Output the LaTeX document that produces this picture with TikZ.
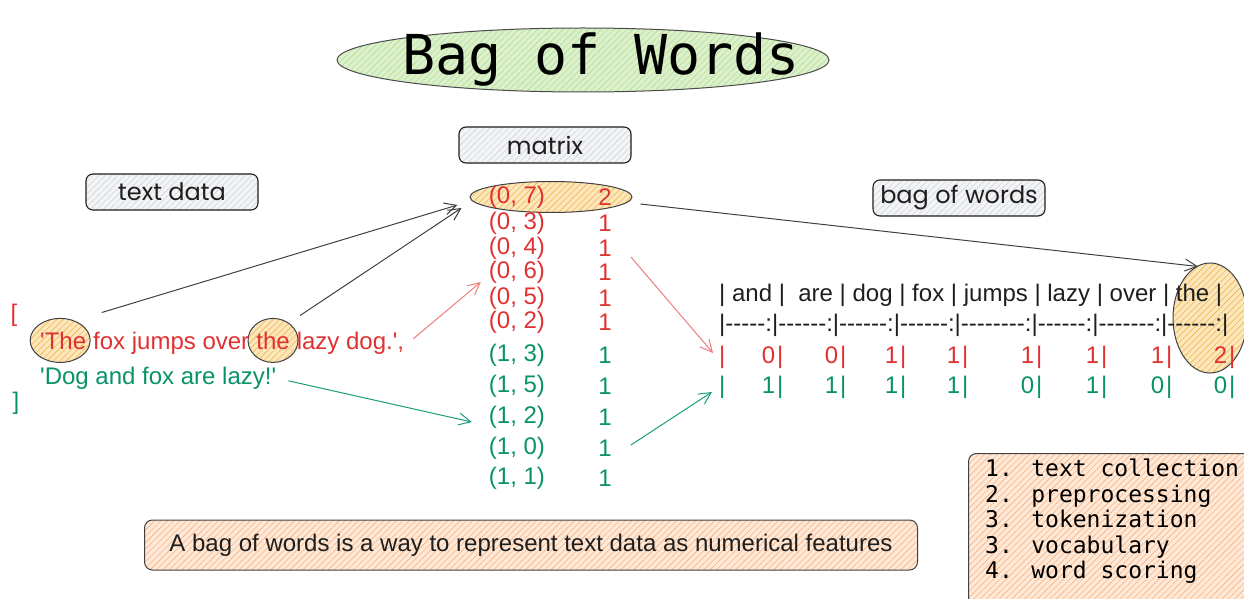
\documentclass[tikz,border=0pt]{standalone}
\usepackage{fontspec}
\newfontfamily\bowfont{Liberation Sans}
\newfontfamily\codefont{DejaVu Sans Mono}
\newfontfamily\handfont{Poppins}
\usetikzlibrary{shapes.geometric,arrows.meta,positioning,backgrounds,patterns.meta}

\definecolor{bowred}{HTML}{E03131}
\definecolor{bowgreen}{HTML}{099268}
\definecolor{ink}{HTML}{1E1E1E}
\definecolor{titlefill}{HTML}{DCF1CB}
\definecolor{titlehatch}{HTML}{B3DE96}
\definecolor{hlfill}{HTML}{FCE7BC}
\definecolor{hlhatch}{HTML}{F0B54E}
\definecolor{notefill}{HTML}{FFE8D6}
\definecolor{notehatch}{HTML}{F5B386}
\definecolor{tagfill}{HTML}{F3F4F6}
\definecolor{taghatch}{HTML}{D2D5DA}
\definecolor{arrred}{HTML}{F07C7C}
\definecolor{arrgreen}{HTML}{1A9C7A}

\newcommand\bowcell[2]{\makebox[#1pt][r]{#2\kern2pt|}}

\tikzset{
  hatch/.style 2 args={preaction={fill=#1},
    preaction={pattern={Lines[angle=45,distance=4.5pt,line width=0.6pt]},pattern color=#2}},
  tagbox/.style={draw=ink, line width=1.1pt, rounded corners=7pt, hatch={tagfill}{taghatch},
    minimum width=172pt, minimum height=36pt, text=ink, font=\handfont\fontsize{24}{28}\selectfont},
  hlring/.style={ellipse, draw=ink!85, line width=1pt, hatch={hlfill}{hlhatch}, inner sep=0pt},
  bowtxt/.style={inner sep=0pt, font=\bowfont\fontsize{24}{28}\selectfont},
  arr/.style={-{Straight Barb[length=12pt,width=12pt]}, line width=1pt, draw=ink!85},
}

\begin{document}
\begin{tikzpicture}[x=1pt,y=-1pt]
\useasboundingbox (0,0) rectangle (1244,599);
\clip (0,0) rectangle (1244,599);

% title
\node[ellipse, draw=ink!80, line width=1pt, hatch={titlefill}{titlehatch},
      minimum width=492pt, minimum height=64pt, inner sep=0pt] (titlering) at (583,60) {};
\node[inner sep=0pt, font=\codefont\fontsize{55}{62}\selectfont, text=black] (title)
  at ([xshift=18pt]titlering.center) {Bag of Words};

% labels
\node[tagbox] (matrixtag) at (545,145) {matrix};
\node[tagbox] (texttag) at (172,192) {text data};
\node[tagbox] (bagtag) at (959,198) {bag of words};

% input sentences
\node[bowtxt, text=bowred] (lbr) at (14,315) {[};
\node[bowtxt, text=bowred, anchor=base west] (s1a) at (40,349) {'The};
\node[bowtxt, text=bowred, anchor=base west] (s1b) at (s1a.base east) {~fox jumps over\kern.278em};
\node[bowtxt, text=bowred, anchor=base west] (s1c) at (s1b.base east) {the};
\node[bowtxt, text=bowred, anchor=base west] (s1d) at (s1c.base east) {~lazy dog.',};
\node[bowtxt, text=bowgreen, anchor=base west] (s2) at (40,384) {'Dog and fox are lazy!'};
\node[bowtxt, text=bowgreen] (rbr) at (16,403) {]};
\begin{scope}[on background layer]
  \node[hlring, minimum width=60pt, minimum height=44pt] (hlA) at ([xshift=-3pt]s1a.center) {};
  \node[hlring, minimum width=50pt, minimum height=44pt] (hlB) at (s1c.center) {};
\end{scope}

% sparse matrix
\node[hlring, minimum width=162pt, minimum height=31pt] (hlM) at (551,197) {};
\foreach \i/\yy/\lab/\val/\col in {1/197/{(0, 7)}/2/bowred, 2/223/{(0, 3)}/1/bowred,
    3/248/{(0, 4)}/1/bowred, 4/272/{(0, 6)}/1/bowred, 5/298/{(0, 5)}/1/bowred,
    6/322/{(0, 2)}/1/bowred, 7/355/{(1, 3)}/1/bowgreen, 8/386/{(1, 5)}/1/bowgreen,
    9/417/{(1, 2)}/1/bowgreen, 10/448/{(1, 0)}/1/bowgreen, 11/478/{(1, 1)}/1/bowgreen}{
  \node[bowtxt, text=\col] (m\i) at (517,\yy) {\lab};
  \node[bowtxt, text=\col] (v\i) at (605,\yy) {\val};
}

% bag of words table
\node[hlring, minimum width=74pt, minimum height=110pt] (hlT) at (1210,318) {};
\node[bowtxt, text=ink, anchor=west] (r1) at (719,295) {|~and~|~~are~|~dog~|~fox~|~jumps~|~lazy~|~over~|~the~|};
\node[bowtxt, text=ink, anchor=west] (r2) at (719,325) {|-----:|------:|------:|------:|--------:|------:|-------:|------:|};
\node[bowtxt, text=bowred, anchor=west] (r3) at (719,357) {|\bowcell{58}{0}\bowcell{63}{0}\bowcell{60}{1}\bowcell{62}{1}\bowcell{74}{1}\bowcell{65}{1}\bowcell{65}{1}\bowcell{63}{2}};
\node[bowtxt, text=bowgreen, anchor=west] (r4) at (719,387) {|\bowcell{58}{1}\bowcell{63}{1}\bowcell{60}{1}\bowcell{62}{1}\bowcell{74}{0}\bowcell{65}{1}\bowcell{65}{0}\bowcell{63}{0}};

% notes
\node[draw=ink!85, line width=1pt, rounded corners=8pt, hatch={notefill}{notehatch},
      minimum width=773pt, minimum height=50pt, text=ink,
      font=\bowfont\fontsize{24}{28}\selectfont] (note) at (531,545)
  {A bag of words is a way to represent text data as numerical features};
\node[draw=ink!85, line width=1pt, rounded corners=8pt, hatch={notefill}{notehatch},
      minimum width=282pt, minimum height=152pt, anchor=north west] (steps) at (968,453) {};
\node[anchor=north west, align=left, inner sep=0pt, text=black,
      font=\codefont\fontsize{23}{25.5}\selectfont] (stepstxt) at (985,459)
  {1. text collection\\2. preprocessing\\3. tokenization\\3. vocabulary\\4. word scoring};

% arrows
\draw[arr] ([shift={(20pt,12pt)}]hlA.north east) -- ([shift={(-12pt,-8pt)}]hlM.west);
\draw[arr] ([shift={(9pt,9pt)}]hlB.north east) -- ([shift={(-8pt,-11pt)}]hlM.west);
\draw[arr] ([shift={(8pt,-7pt)}]hlM.east) -- ([shift={(-12pt,-4pt)}]hlT.north);
\draw[arr, draw=arrred] ([shift={(9pt,4pt)}]s1d.east) -- ([shift={(-8pt,-10pt)}]m4.west);
\draw[arr, draw=arrgreen] ([shift={(12pt,-3pt)}]s2.east) -- ([shift={(-17pt,-5pt)}]m9.west);
\draw[arr, draw=arrred] ([shift={(19pt,-9pt)}]v3.east) -- ([shift={(-6pt,4pt)}]r3.west);
\draw[arr, draw=arrgreen] ([shift={(19pt,3pt)}]v10.east) -- ([shift={(-7pt,-5pt)}]r4.west);
\end{tikzpicture}
\end{document}
